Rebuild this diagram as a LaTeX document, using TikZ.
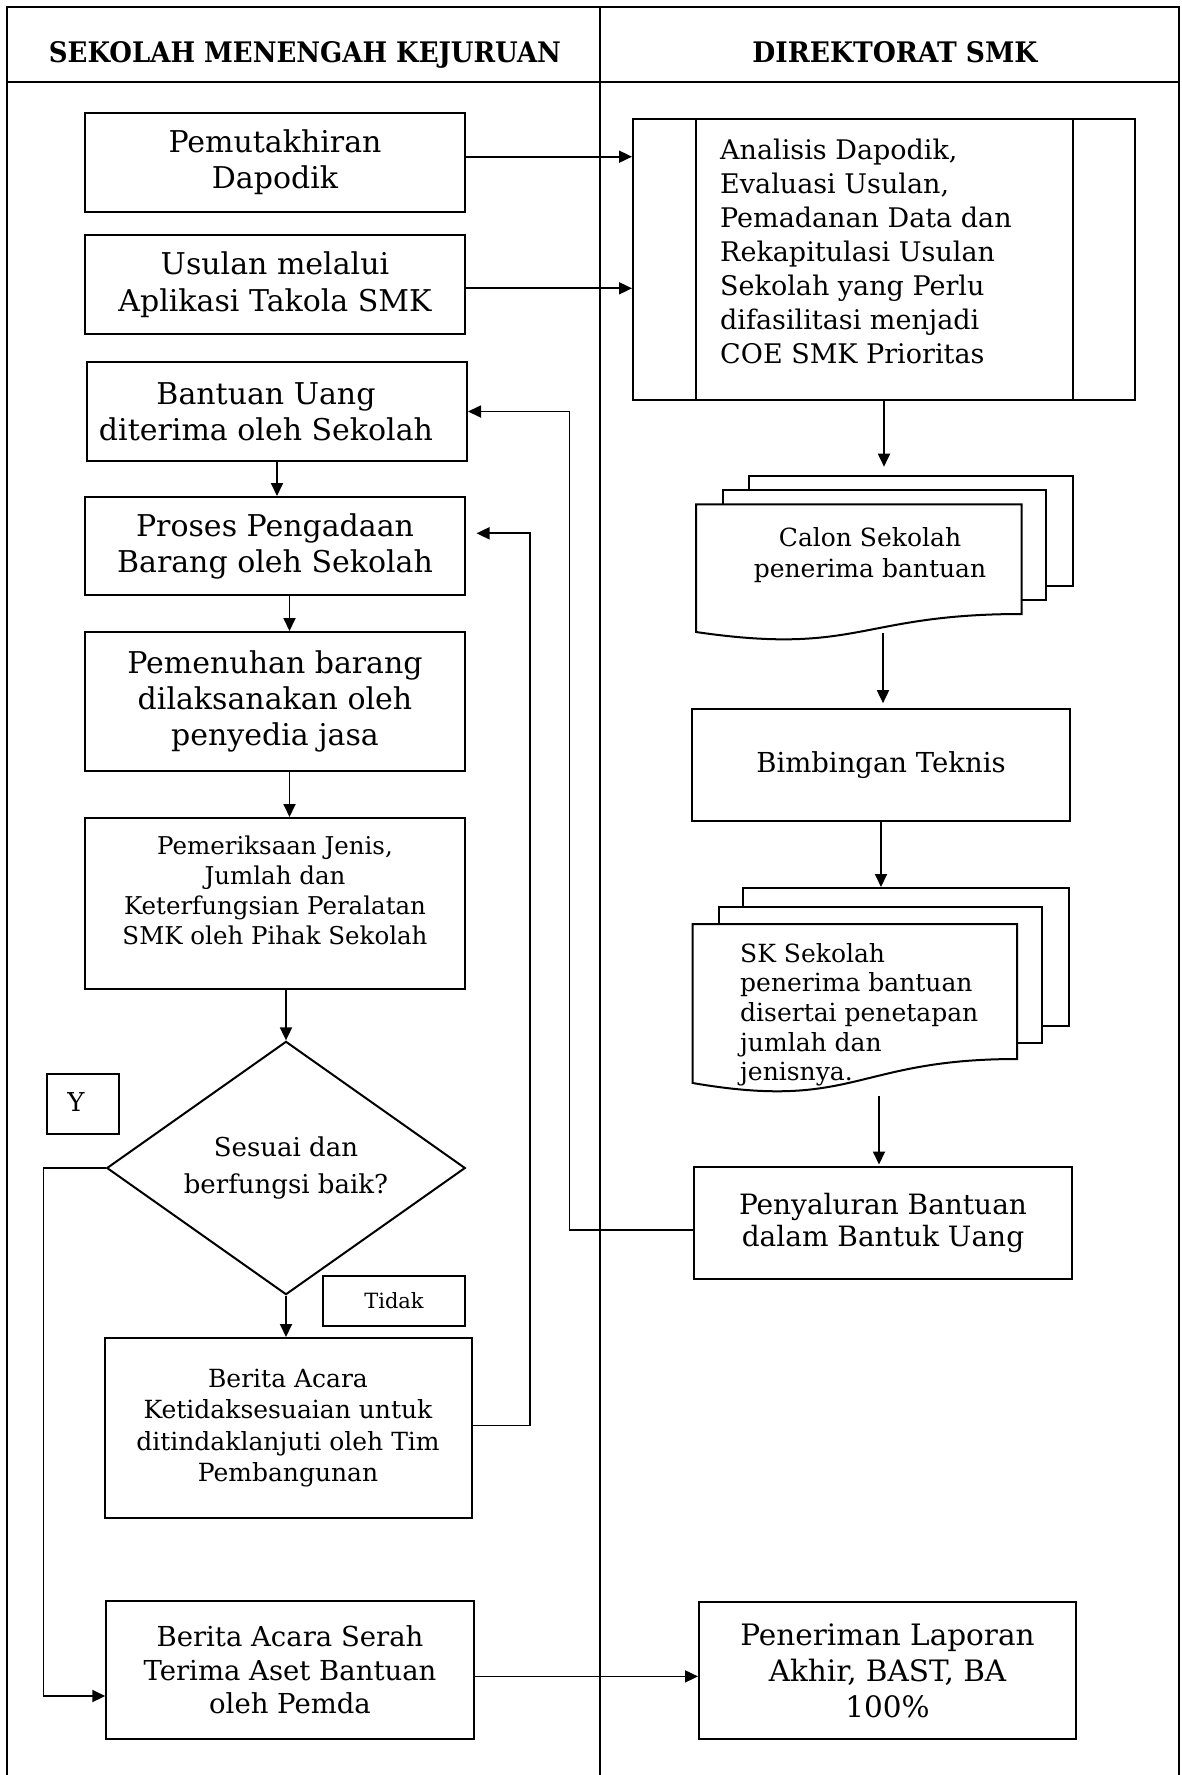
\documentclass[tikz,border=0pt]{standalone}
\usepackage{fontspec}
\setmainfont{DejaVu Serif}
\usepackage{graphicx}
\usetikzlibrary{arrows.meta,shapes.geometric}
\begin{document}
\begin{tikzpicture}[x=1pt,y=-1pt,
  lw/.style={line width=2pt},
  box/.style={draw,line width=2pt,inner sep=0pt,align=center,fill=white},
  txt/.style={inner sep=0pt,align=center},
  arr/.style={line width=1.8pt,-{Triangle[length=13pt,width=12pt]}},
  frame/.style={line width=2.2pt},
  fs/.style 2 args={font=\fontsize{#1}{#2}\selectfont},
]
\useasboundingbox (0,0) rectangle (1181,1775);
% frame
\draw[frame] (7,1776) -- (7,7) -- (1179,7) -- (1179,1776);
\draw[frame] (7,81.7) -- (1179,81.7);
\draw[frame] (600,7) -- (600,1776);
\node[anchor=base,inner sep=0pt] (h1) at (305,62) {\resizebox{512pt}{21pt}{\bfseries SEKOLAH MENENGAH KEJURUAN}};
\node[anchor=base,inner sep=0pt] (h2) at (895,62) {\resizebox{285pt}{21pt}{\bfseries DIREKTORAT SMK}};

% left column
\node[box,minimum width=380pt,minimum height=98.7pt,fs={30}{36.5}] (b1) at (275,162.3) {Pemutakhiran\\Dapodik};
\node[box,minimum width=380pt,minimum height=99pt,fs={30}{36.5}] (b2) at (275,284.5) {Usulan melalui\\Aplikasi Takola SMK};
\node[box,minimum width=380pt,minimum height=99pt] (b3) at (277,411.5) {};
\node[txt,fs={30}{36}] (t3) at (266,412) {Bantuan Uang\\diterima oleh Sekolah};
\node[box,minimum width=380pt,minimum height=98pt,fs={30}{36}] (b4) at (275,546) {Proses Pengadaan\\Barang oleh Sekolah};
\node[box,minimum width=380pt,minimum height=139pt,fs={30}{36}] (b5) at (275,701.5) {Pemenuhan barang\\dilaksanakan oleh\\penyedia jasa};
\node[box,minimum width=380pt,minimum height=171pt] (b6) at (275,903.5) {};
\node[txt,fs={24.5}{30}] (t6) at (275,890) {Pemeriksaan Jenis,\\Jumlah dan\\Keterfungsian Peralatan\\SMK oleh Pihak Sekolah};
\node[draw,diamond,line width=2pt,inner sep=0pt,shape aspect=1.415,minimum width=358.5pt,minimum height=253.3pt,align=center,fs={26}{37}] (dia) at (286,1168) {Sesuai dan\\berfungsi baik?};
\node[box,minimum width=72pt,minimum height=60pt] (yb) at (82.7,1104.2) {};
\node[txt,fs={26}{30}] (ty) at (76,1102) {Y};
\node[box,minimum width=142pt,minimum height=49.5pt,fs={21}{24}] (tb) at (394,1301) {Tidak};
\node[box,minimum width=367pt,minimum height=180pt,fs={25}{31.5}] (b7) at (288,1428) {Berita Acara\\Ketidaksesuaian untuk\\ditindaklanjuti oleh Tim\\Pembangunan};
\node[box,minimum width=367.4pt,minimum height=138pt,fs={27.5}{33.5}] (b8) at (290,1670) {Berita Acara Serah\\Terima Aset Bantuan\\oleh Pemda};

% right column
\node[box,minimum width=502pt,minimum height=280.7pt] (ana) at (884,259.7) {};
\draw[lw] (ana.north -| 696,0) -- (ana.south -| 696,0);
\draw[lw] (ana.north -| 1072.5,0) -- (ana.south -| 1072.5,0);
\node[txt,align=left,anchor=north west,fs={27}{34}] (tana) at (720,138.5) {Analisis Dapodik,\\Evaluasi Usulan,\\Pemadanan Data dan\\Rekapitulasi Usulan\\Sekolah yang Perlu\\difasilitasi menjadi\\COE SMK Prioritas};

% Calon document stack
\node[box,minimum width=324pt,minimum height=110pt] (cb3) at (911.3,531) {};
\node[box,minimum width=323pt,minimum height=110pt] (cb2) at (884.2,545) {};
\draw[lw,fill=white] (696,504.3) -- (1021.7,504.3) -- (1021.7,614) .. controls (858.85,614) and (858.85,655.8) .. (696,632) -- cycle;
\node[txt,fs={25}{31}] (tcal) at (870,555) {Calon Sekolah\\penerima bantuan};
\coordinate (calbot) at (883,633);

\node[box,minimum width=378pt,minimum height=111.7pt,fs={27.5}{33}] (bim) at (881,765) {Bimbingan Teknis};

% SK document stack
\node[box,minimum width=326pt,minimum height=138pt] (sk3) at (906,957) {};
\node[box,minimum width=322.4pt,minimum height=136.6pt] (sk2) at (880.5,975) {};
\draw[lw,fill=white] (692.7,924) -- (1017,924) -- (1017,1059) .. controls (854.85,1059) and (854.85,1111) .. (692.7,1083) -- cycle;
\begin{scope}
\clip (692.7,924) -- (1017,924) -- (1017,1059) .. controls (854.85,1059) and (854.85,1111) .. (692.7,1083) -- cycle;
\node[txt,align=left,anchor=north west,fs={25}{29.6}] (tsk) at (740,943) {SK Sekolah\\penerima bantuan\\disertai penetapan\\jumlah dan\\jenisnya.};
\end{scope}
\coordinate (skbot) at (879,1096);

\node[box,minimum width=378pt,minimum height=112pt,fs={28}{32}] (pny) at (883,1223) {Penyaluran Bantuan\\dalam Bantuk Uang};
\node[box,minimum width=377pt,minimum height=137pt,fs={29.5}{36}] (pnr) at (887.5,1670.5) {Peneriman Laporan\\Akhir, BAST, BA\\100\%};

% connectors
\draw[arr] (b1.east |- 0,156.7) -- (ana.west |- 0,156.7);
\draw[arr] (b2.east |- 0,288.3) -- (ana.west |- 0,288.3);
\draw[arr] (ana.south) -- (ana.south |- 0,466.7);
\draw[arr] (calbot) -- ([yshift=5pt]calbot |- bim.north);
\draw[arr] (bim.south) -- (bim.south |- sk3.north);
\draw[arr] (skbot) -- ([yshift=1.5pt]skbot |- pny.north);
\draw[arr] (b3.south) -- (b3.south |- b4.north);
\draw[arr] (289.5,0 |- b4.south) -- (289.5,0 |- b5.north);
\draw[arr] (289.5,0 |- b5.south) -- (289.5,0 |- b6.north);
\draw[arr] (dia.north |- b6.south) -- (dia.north);
\draw[arr] (dia.south) -- (dia.south |- b7.north);
\coordinate (yl) at (43.5,1696);
\draw[arr] (dia.west) -| (yl) -- (b8.west |- yl);
\coordinate (fb4) at (476.5,533.3);
\draw[arr] (b7.east |- 0,1425.4) -| (530,533.3) -- (fb4);
\draw[arr] (pny.west |- 0,1230.3) -| (569.5,411.5) -- (b3.east);
\draw[arr] (b8.east |- 0,1676.4) -- (pnr.west |- 0,1676.4);
\end{tikzpicture}
\end{document}
